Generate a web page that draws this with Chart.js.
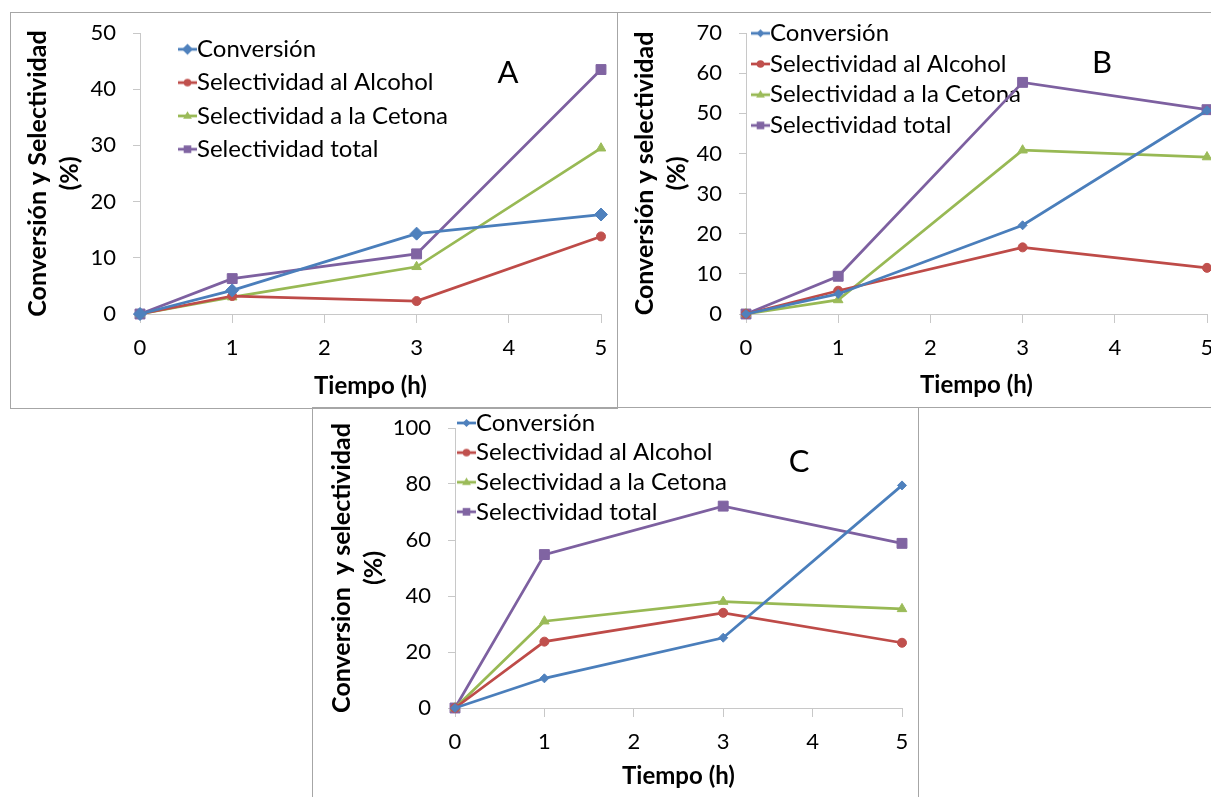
<!DOCTYPE html>
<html>
<head>
<meta charset="utf-8">
<script src="https://cdn.jsdelivr.net/npm/chart.js@4.4.0/dist/chart.umd.min.js"></script>
<style>
  html, body { margin: 0; padding: 0; background: #fff; width: 1211px; height: 797px; overflow: hidden; position: relative; }
  canvas { position: absolute; }
  .frame { position: absolute; border: 1px solid #a6a6a6; box-sizing: border-box; pointer-events: none; }
</style>
</head>
<body>
<canvas id="cA" width="607" height="396" style="left:10px;top:12px"></canvas>
<canvas id="cB" width="620" height="395" style="left:617px;top:12px"></canvas>
<canvas id="cC" width="606" height="400" style="left:312px;top:407px"></canvas>
<div class="frame" style="left:10px;top:12px;width:608px;height:397px"></div>
<div class="frame" style="left:617px;top:12px;width:640px;height:396px"></div>
<div class="frame" style="left:312px;top:407px;width:607px;height:420px"></div>
<script>
// Reaction time (h) at which samples were taken
const horas = [0, 1, 3, 5];
const tiempoTicks = [0, 1, 2, 3, 4, 5];

const serieNombres = ['Conversión', 'Selectividad al Alcohol', 'Selectividad a la Cetona', 'Selectividad total'];

// Panel A (%)
const conversionA = [0, 4.2, 14.3, 17.7];
const alcoholA    = [0, 3.2, 2.3, 13.8];
const cetonaA     = [0, 3.0, 8.4, 29.5];
const totalA      = [0, 6.3, 10.7, 43.5];
const yTicksA     = [0, 10, 20, 30, 40, 50];

// Panel B (%)
const conversionB = [0, 5.0, 22.1, 50.7];
const alcoholB    = [0, 5.8, 16.6, 11.5];
const cetonaB     = [0, 3.5, 40.8, 39.1];
const totalB      = [0, 9.4, 57.7, 50.9];
const yTicksB     = [0, 10, 20, 30, 40, 50, 60, 70];

// Panel C (%)
const conversionC = [0, 10.6, 25.1, 79.5];
const alcoholC    = [0, 23.7, 34.0, 23.3];
const cetonaC     = [0, 31.0, 38.0, 35.4];
const totalC      = [0, 54.8, 72.1, 58.8];
const yTicksC     = [0, 20, 40, 60, 80, 100];

const tituloX = 'Tiempo (h)';
const tituloYA = ['Conversión y Selectividad', '(%)'];
const tituloYB = ['Conversión y selectividad', '(%)'];
const tituloYC = ['Conversion  y selectividad', '(%)'];

// Styling
const FONT = 'Lato, "Open Sans", sans-serif';
const axisGray = '#c8c8c8';
const estilos = [
  { line: '#4a7ebb', fill: '#4f81bd', shape: 'rectRot' },
  { line: '#be4b48', fill: '#c0504d', shape: 'circle' },
  { line: '#98b954', fill: '#9bbb59', shape: 'triangle' },
  { line: '#7d60a0', fill: '#8064a2', shape: 'rect' }
];
const legendFontSize = 24;
const legendBoxW = 8;

// Legend icon: short line segment with the series marker, ending where the text begins
function legendIcon(est, diamondR) {
  const W = legendBoxW + legendFontSize, H = 24;
  const c = document.createElement('canvas');
  c.width = W; c.height = H;
  const g = c.getContext('2d');
  const cy = H / 2, x0 = W - 19, cx = W - 9.5;
  g.strokeStyle = est.line; g.lineWidth = 2.75;
  g.beginPath(); g.moveTo(x0, cy); g.lineTo(W, cy); g.stroke();
  g.fillStyle = est.fill;
  g.beginPath();
  if (est.shape === 'rectRot') {
    g.moveTo(cx, cy - diamondR); g.lineTo(cx + diamondR, cy); g.lineTo(cx, cy + diamondR); g.lineTo(cx - diamondR, cy);
  } else if (est.shape === 'circle') {
    g.arc(cx, cy, 3.8, 0, Math.PI * 2);
  } else if (est.shape === 'triangle') {
    g.moveTo(cx, cy - 4.8); g.lineTo(cx + 4.4, cy + 2.7); g.lineTo(cx - 4.4, cy + 2.7);
  } else {
    g.rect(cx - 3.8, cy - 3.8, 7.6, 7.6);
  }
  g.closePath(); g.fill();
  return c;
}

// Moves the legend to a fixed spot inside the plot and writes the panel letter
const panelDecor = {
  id: 'panelDecor',
  beforeDraw(chart, args, opts) {
    const lg = chart.legend;
    if (!lg || !opts.legend) return;
    const pad = lg.options.labels.padding;
    lg.left = opts.legend.textX - legendBoxW - legendFontSize / 2 - pad;
    lg.top = opts.legend.firstY - legendFontSize / 2 - pad;
    lg.right = lg.left + 600;
    lg.bottom = lg.top + 400;
    lg.width = 600; lg.height = 400;
  },
  beforeDatasetsDraw(chart, args, opts) {
    if (!opts.letter) return;
    const ctx = chart.ctx;
    ctx.save();
    ctx.font = 'normal 31px ' + FONT;
    ctx.fillStyle = '#000';
    ctx.textAlign = 'center';
    ctx.textBaseline = 'middle';
    ctx.fillText(opts.letter.text, opts.letter.x, opts.letter.y);
    ctx.restore();
  }
};

function buildChart(id, series, yTicks, yTitle, lay) {
  const datasets = series.map((vals, i) => ({
    label: serieNombres[i],
    data: horas.map((h, k) => ({ x: h, y: vals[k] })),
    borderColor: estilos[i].line,
    backgroundColor: estilos[i].fill,
    borderWidth: 2.75,
    pointStyle: estilos[i].shape,
    pointRadius: lay.radii[i],
    pointBackgroundColor: estilos[i].fill,
    pointBorderColor: estilos[i].fill,
    pointBorderWidth: 1,
    tension: 0,
    fill: false,
    clip: false
  }));
  const icons = estilos.map(e => legendIcon(e, lay.legendDiamond));
  const tickFont = { family: FONT, size: 22, lineHeight: 1.2 };
  const xTitleFont = { family: FONT, size: 24, weight: 'bold', lineHeight: '32px' };
  const yTitleFont = { family: FONT, size: 25, weight: 'bold', lineHeight: '32px' };

  return new Chart(document.getElementById(id), {
    type: 'line',
    data: { datasets },
    plugins: [panelDecor],
    options: {
      responsive: false,
      devicePixelRatio: 1,
      animation: false,
      events: [],
      layout: { padding: { left: 0, right: lay.padRight, top: 21, bottom: lay.padBottom } },
      scales: {
        x: {
          type: 'linear', min: 0, max: 5,
          afterBuildTicks: s => { s.ticks = tiempoTicks.map(v => ({ value: v })); },
          afterFit: s => { s.height = lay.xHeight; s.paddingLeft = 0; s.paddingRight = 0; },
          grid: { drawOnChartArea: false, drawTicks: true, tickLength: 9, color: axisGray, lineWidth: 1 },
          border: { display: true, color: axisGray, width: 1 },
          ticks: { font: tickFont, color: '#000', padding: 12, autoSkip: false, maxRotation: 0 },
          title: { display: true, text: tituloX, font: xTitleFont, color: '#000', padding: { top: 0, bottom: 0 } }
        },
        y: {
          type: 'linear', min: yTicks[0], max: yTicks[yTicks.length - 1],
          afterBuildTicks: s => { s.ticks = yTicks.map(v => ({ value: v })); },
          afterFit: s => { s.width = lay.yWidth; s.paddingTop = 0; s.paddingBottom = 0; },
          grid: { drawOnChartArea: false, drawTicks: true, tickLength: 7, color: axisGray, lineWidth: 1 },
          border: { display: true, color: axisGray, width: 1 },
          ticks: { font: tickFont, color: '#000', padding: 17 },
          title: { display: true, text: yTitle, font: yTitleFont, color: '#000', padding: { top: lay.yTitlePad, bottom: 0 } }
        }
      },
      plugins: {
        legend: {
          display: true,
          position: 'chartArea',
          align: 'start',
          labels: {
            usePointStyle: true,
            pointStyleWidth: legendBoxW,
            boxHeight: legendFontSize,
            padding: lay.legendPad,
            color: '#000',
            font: { family: FONT, size: legendFontSize },
            generateLabels: chart => Chart.defaults.plugins.legend.labels.generateLabels(chart)
              .map((it, i) => Object.assign(it, { pointStyle: icons[i] }))
          }
        },
        tooltip: { enabled: false },
        panelDecor: { legend: lay.legendPos, letter: lay.letter }
      }
    }
  });
}

buildChart('cA', [conversionA, alcoholA, cetonaA, totalA], yTicksA, tituloYA, {
  padRight: 16, padBottom: 6, xHeight: 88, yWidth: 130, yTitlePad: 12,
  radii: [6.5, 4.5, 5.5, 7], legendDiamond: 5.5, legendPad: 9.3,
  legendPos: { textX: 187, firstY: 37.3 },
  letter: { text: 'A', x: 498, y: 61 }
});

buildChart('cB', [conversionB, alcoholB, cetonaB, totalB], yTicksB, tituloYB, {
  padRight: 30, padBottom: 6, xHeight: 87, yWidth: 129, yTitlePad: 12,
  radii: [4.5, 4.5, 5.5, 7], legendDiamond: 4, legendPad: 6.7,
  legendPos: { textX: 153, firstY: 21.3 },
  letter: { text: 'B', x: 485, y: 51 }
});

buildChart('cC', [conversionC, alcoholC, cetonaC, totalC], yTicksC, tituloYC, {
  padRight: 16, padBottom: 15, xHeight: 84, yWidth: 143, yTitlePad: 14,
  radii: [4.5, 4.5, 5.5, 7], legendDiamond: 4, legendPad: 5.6,
  legendPos: { textX: 164, firstY: 16 },
  letter: { text: 'C', x: 487, y: 55 }
});
</script>
</body>
</html>
